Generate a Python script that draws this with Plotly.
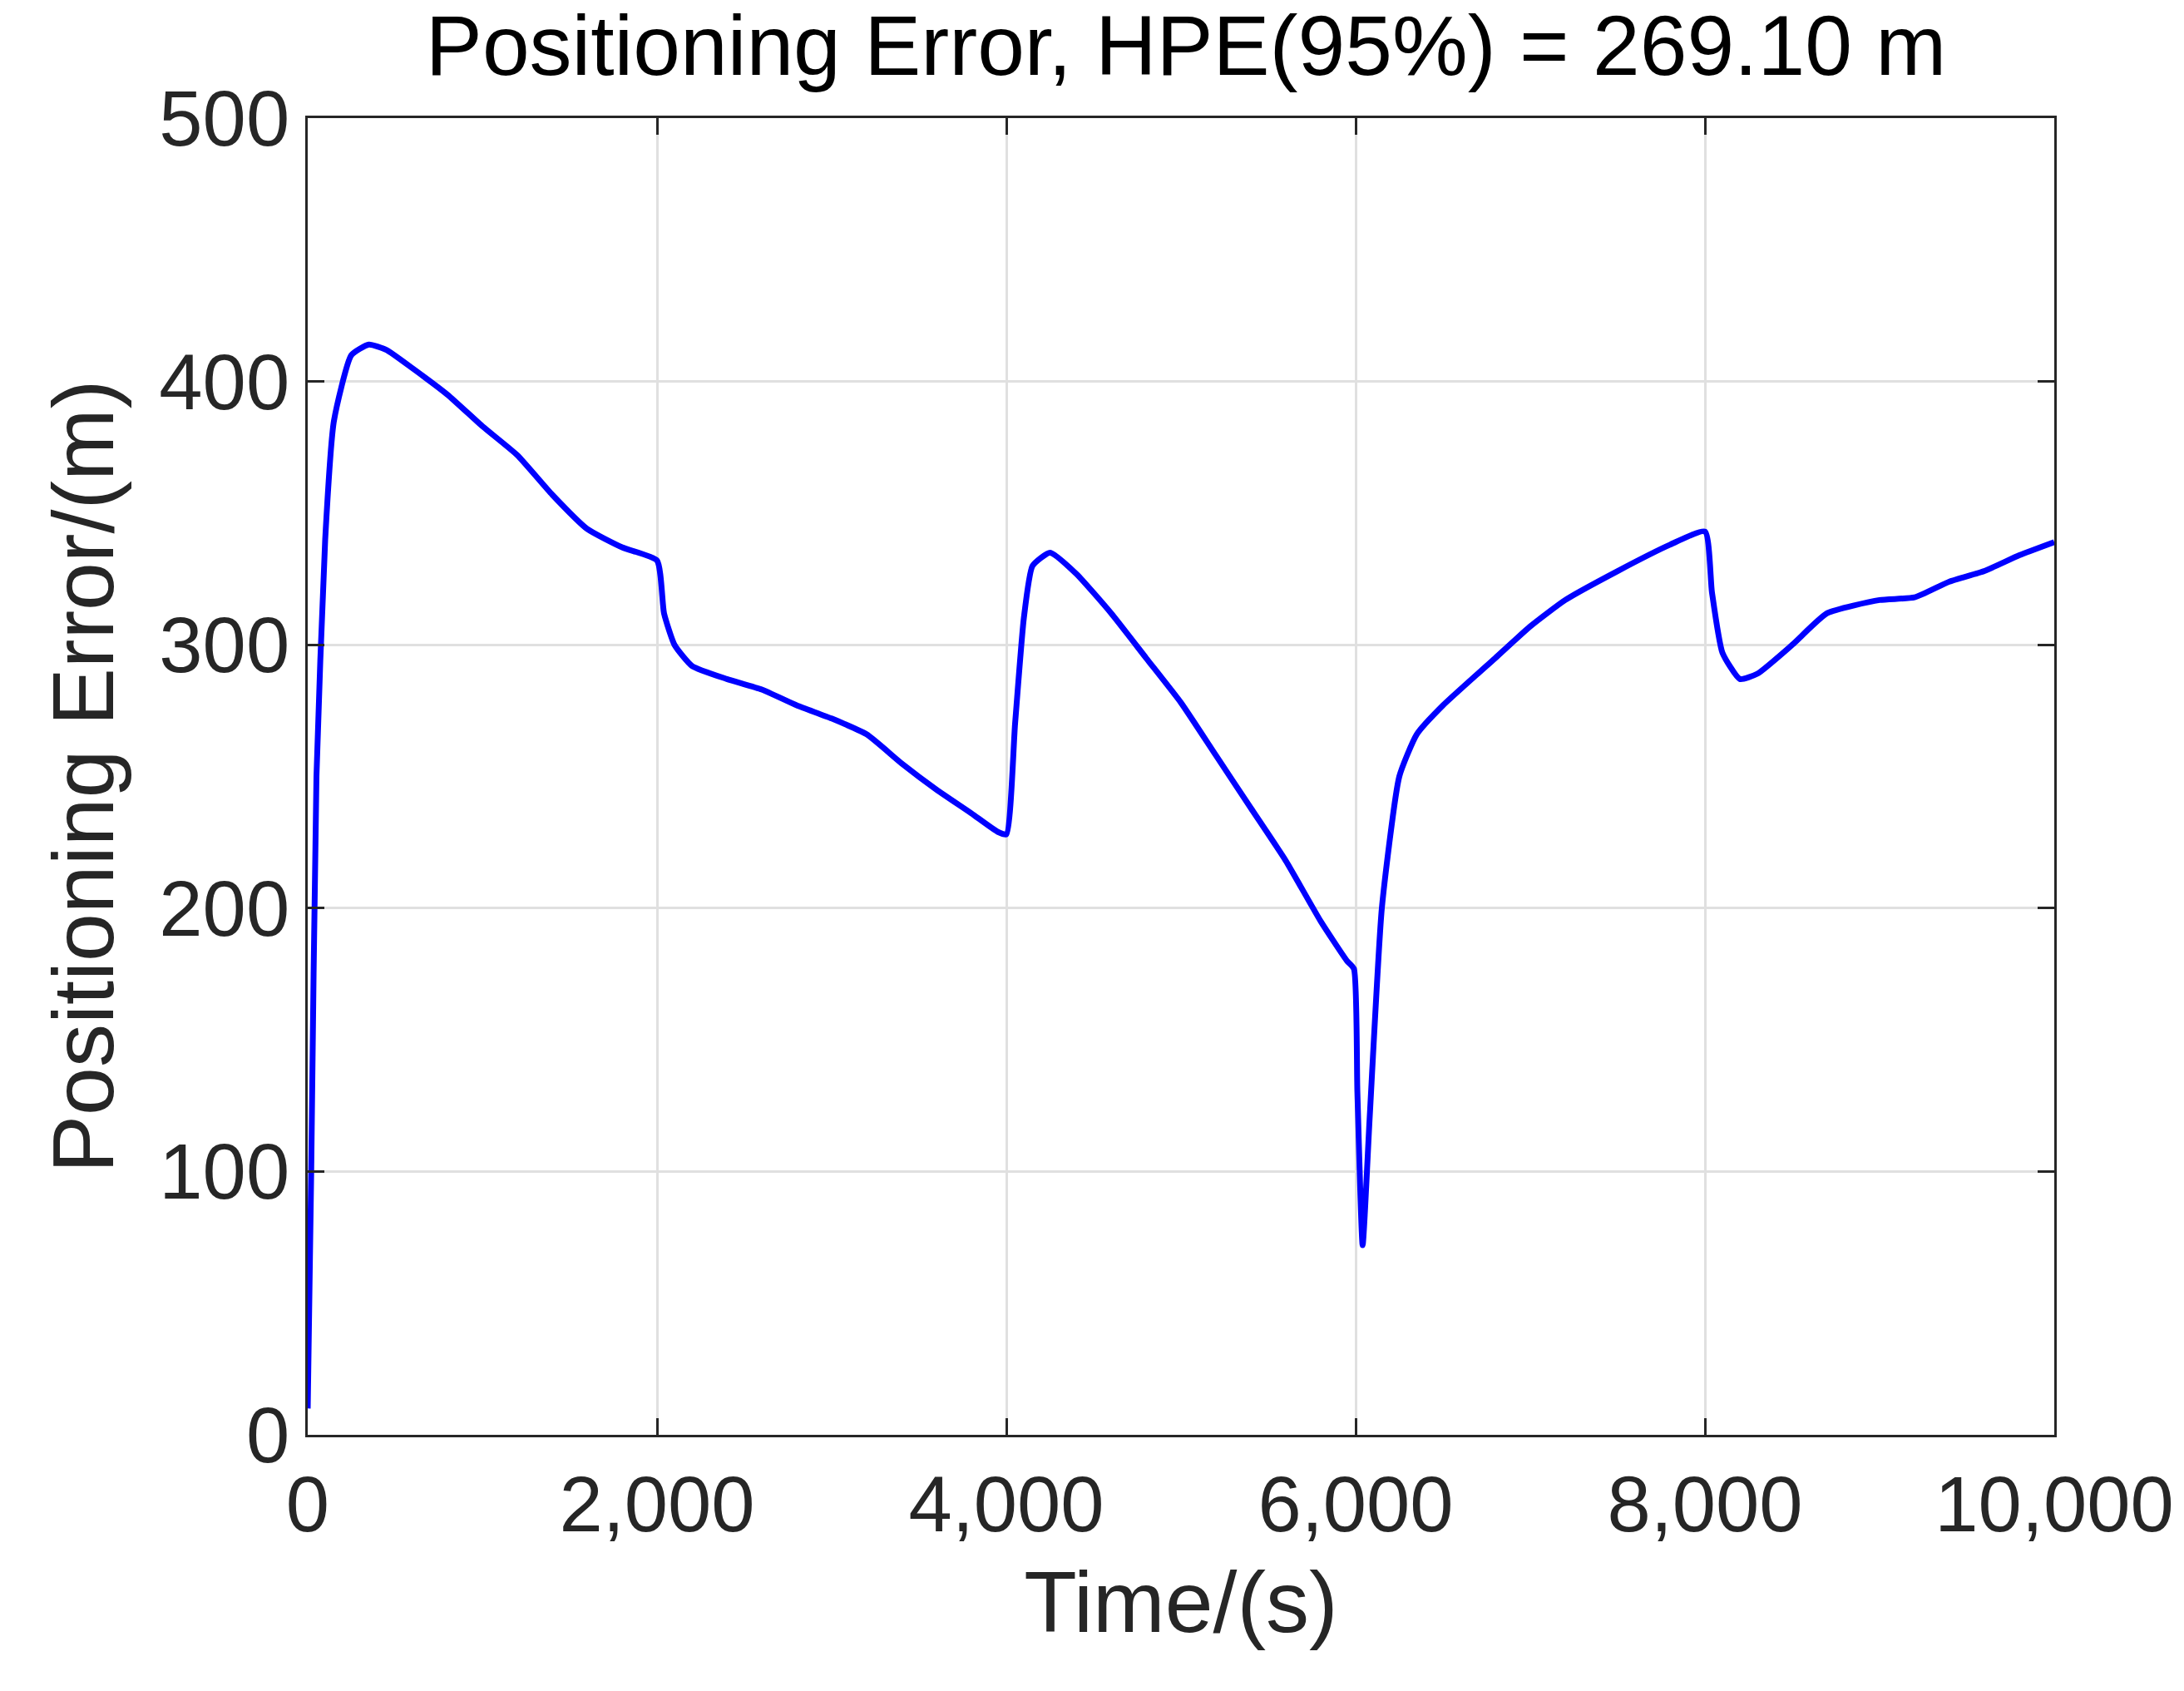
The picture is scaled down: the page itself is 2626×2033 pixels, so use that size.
import plotly.graph_objects as go

time_s = [0, 20, 50, 100, 150, 250, 350, 450, 600, 800, 1000, 1200, 1400, 1600, 1800, 2000,
          2040, 2100, 2200, 2400, 2600, 2800, 3000, 3200, 3400, 3600, 3800, 3950, 4000,
          4050, 4100, 4150, 4250, 4400, 4600, 4800, 5000, 5200, 5400, 5600, 5800, 5950, 5990,
          6010, 6040, 6080, 6150, 6250, 6350, 6500, 6800, 7000, 7200, 7500, 7800, 8000,
          8040, 8100, 8200, 8300, 8500, 8700, 9000, 9200, 9400, 9600, 9800, 10000]
error_m = [10, 100, 250, 340, 385, 410, 414, 412, 405, 395, 383, 372, 357, 344, 337, 332,
           312, 300, 292, 287, 283, 277, 272, 266, 255, 245, 236, 229, 228,
           270, 310, 330, 335, 327, 312, 295, 278, 258, 238, 218, 195, 180, 177,
           130, 72, 120, 200, 250, 266, 277, 295, 307, 317, 328, 338, 343,
           320, 297, 287, 289, 300, 312, 317, 318, 324, 328, 334, 339]

fig = go.Figure(go.Scatter(x=time_s, y=error_m, mode="lines",
                           line={'color': '#0000ff', 'width': 7, 'shape': 'spline', 'smoothing': 0.5}))

axis = dict(showline=True, linecolor='#262626', linewidth=3, mirror='ticks',
            ticks='inside', ticklen=20, tickwidth=3, tickcolor='#262626',
            showgrid=True, gridcolor='#e0e0e0', gridwidth=3, zeroline=False,
            tickfont={'size': 94, 'color': '#262626'})

fig.update_layout(
    width=2626, height=2033,
    paper_bgcolor='white', plot_bgcolor='white',
    font={'family': 'Liberation Sans', 'color': '#262626'},
    margin={'l': 362, 'r': 164, 't': 134, 'b': 316},
    title={'text': 'Positioning Error, HPE(95%) = 269.10 m', 'x': 0.54, 'xanchor': 'center',
           'y': 0.995, 'yanchor': 'top', 'font': {'size': 102, 'color': 'black'}},
    showlegend=False)
fig.update_xaxes(axis, range=[0, 10000], dtick=2000, tickformat=',d',
                 title={'text': 'Time/(s)', 'font': {'size': 104}, 'standoff': 30})
fig.update_yaxes(axis, range=[0, 500], dtick=100,
                 title={'text': 'Positioning Error/(m)', 'font': {'size': 104}, 'standoff': 20})

fig.write_html("out.html")
